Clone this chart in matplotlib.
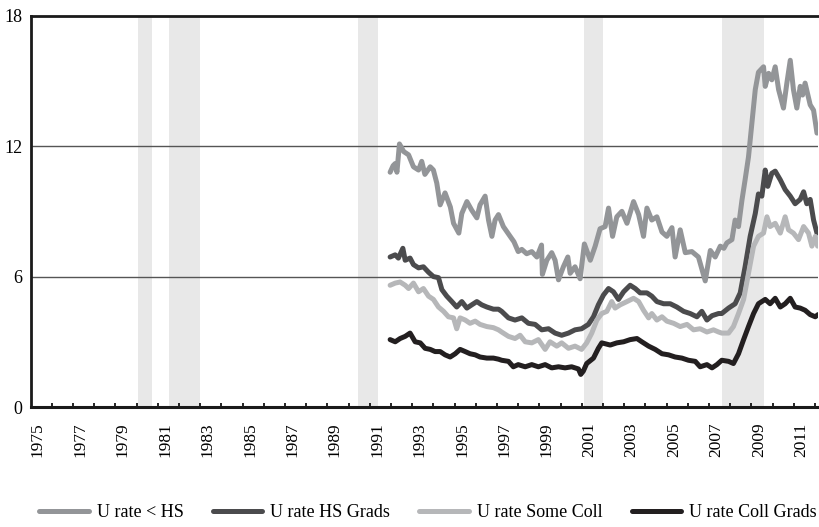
"""Unemployment rate by education level, 1975-2012, with recession shading."""

import matplotlib

matplotlib.use("Agg")
import matplotlib.pyplot as plt
import numpy as np

# ---- data (decimal years, percent) ----
LT_HS_YEARS = [
    1991.96, 1992.10, 1992.20, 1992.28, 1992.40, 1992.60, 1992.83, 1993.06, 1993.30, 1993.45,
    1993.60, 1993.85, 1994.00, 1994.16, 1994.32, 1994.55, 1994.80, 1994.95, 1995.20, 1995.34,
    1995.58, 1995.81, 1996.05, 1996.20, 1996.44, 1996.60, 1996.76, 1996.91, 1997.07, 1997.30,
    1997.62, 1997.80, 1998.00, 1998.17, 1998.40, 1998.64, 1998.88, 1999.10, 1999.14, 1999.35,
    1999.58, 1999.74, 1999.90, 2000.13, 2000.34, 2000.45, 2000.68, 2000.92, 2001.12, 2001.40,
    2001.63, 2001.86, 2002.10, 2002.26, 2002.45, 2002.65, 2002.89, 2003.13, 2003.44, 2003.68,
    2003.91, 2004.07, 2004.30, 2004.54, 2004.78, 2005.01, 2005.25, 2005.40, 2005.64, 2005.88,
    2006.19, 2006.50, 2006.82, 2007.06, 2007.29, 2007.53, 2007.70, 2007.84, 2008.08, 2008.23,
    2008.39, 2008.55, 2008.70, 2008.86, 2009.02, 2009.18, 2009.33, 2009.57, 2009.65, 2009.81,
    2009.96, 2010.12, 2010.28, 2010.51, 2010.67, 2010.83, 2010.98, 2011.14, 2011.30, 2011.41,
    2011.53, 2011.77, 2011.93, 2012.09,
]
LT_HS = [
    10.8, 11.1, 11.2, 10.8, 12.1, 11.75, 11.6, 11.05, 10.9, 11.3,
    10.7, 11.05, 10.9, 10.3, 9.3, 9.85, 9.2, 8.45, 8.0, 8.9,
    9.45, 9.05, 8.7, 9.3, 9.7, 8.6, 7.85, 8.6, 8.85, 8.3,
    7.85, 7.6, 7.15, 7.25, 7.05, 7.15, 6.9, 7.45, 6.1, 6.75,
    7.1, 6.75, 5.85, 6.45, 6.9, 6.15, 6.45, 5.9, 7.5, 6.75,
    7.4, 8.2, 8.3, 9.15, 7.85, 8.75, 9.0, 8.45, 9.45, 8.85,
    7.85, 9.15, 8.6, 8.75, 8.05, 7.85, 8.25, 6.9, 8.15, 7.1,
    7.15, 6.9, 5.8, 7.2, 6.9, 7.4, 7.3, 7.55, 7.7, 8.6,
    8.3, 9.5, 10.45, 11.5, 13.05, 14.6, 15.4, 15.65, 14.75, 15.35,
    15.05, 15.65, 14.6, 13.75, 14.9, 15.95, 14.6, 13.75, 14.75, 14.35,
    14.9, 13.9, 13.65, 12.6,
]

HS_GRAD_YEARS = [
    1991.96, 1992.20, 1992.35, 1992.56, 1992.67, 1992.90, 1993.06, 1993.30, 1993.53, 1993.77,
    1994.00, 1994.24, 1994.40, 1994.63, 1994.87, 1995.10, 1995.34, 1995.58, 1995.81, 1996.05,
    1996.28, 1996.52, 1996.83, 1997.07, 1997.22, 1997.54, 1997.85, 1998.17, 1998.48, 1998.80,
    1999.11, 1999.43, 1999.74, 2000.05, 2000.37, 2000.68, 2000.99, 2001.31, 2001.55, 2001.78,
    2002.02, 2002.26, 2002.49, 2002.73, 2002.97, 2003.28, 2003.52, 2003.75, 2004.07, 2004.30,
    2004.54, 2004.86, 2005.17, 2005.48, 2005.80, 2006.11, 2006.43, 2006.66, 2006.90, 2007.14,
    2007.45, 2007.60, 2007.92, 2008.23, 2008.47, 2008.70, 2008.94, 2009.18, 2009.33, 2009.49,
    2009.65, 2009.77, 2009.96, 2010.12, 2010.36, 2010.59, 2010.83, 2011.06, 2011.30, 2011.46,
    2011.61, 2011.77, 2011.93, 2012.09,
]
HS_GRAD = [
    6.9, 7.0, 6.85, 7.3, 6.75, 6.85, 6.55, 6.4, 6.45, 6.2,
    6.0, 5.95, 5.4, 5.1, 4.85, 4.6, 4.85, 4.55, 4.7, 4.85,
    4.7, 4.6, 4.5, 4.5, 4.4, 4.1, 4.0, 4.1, 3.85, 3.8,
    3.55, 3.6, 3.4, 3.3, 3.4, 3.55, 3.6, 3.8, 4.15, 4.7,
    5.15, 5.45, 5.3, 4.95, 5.3, 5.6, 5.45, 5.25, 5.25, 5.1,
    4.85, 4.75, 4.75, 4.6, 4.4, 4.3, 4.15, 4.4, 4.0, 4.2,
    4.3, 4.3, 4.55, 4.75, 5.25, 6.45, 7.85, 8.9, 9.8, 9.7,
    10.9, 10.15, 10.75, 10.85, 10.45, 10.0, 9.7, 9.35, 9.55, 9.9,
    9.35, 9.55, 8.6, 8.0,
]

SOME_COLL_YEARS = [
    1991.96, 1992.20, 1992.43, 1992.67, 1992.83, 1993.06, 1993.30, 1993.53, 1993.77, 1994.00,
    1994.24, 1994.48, 1994.71, 1994.95, 1995.10, 1995.26, 1995.50, 1995.73, 1995.97, 1996.20,
    1996.52, 1996.83, 1997.07, 1997.22, 1997.54, 1997.85, 1998.09, 1998.33, 1998.64, 1998.95,
    1999.27, 1999.50, 1999.82, 2000.05, 2000.37, 2000.68, 2000.99, 2001.23, 2001.47, 2001.71,
    2001.94, 2002.18, 2002.41, 2002.57, 2002.81, 2003.13, 2003.44, 2003.68, 2003.91, 2004.15,
    2004.30, 2004.54, 2004.78, 2005.01, 2005.33, 2005.64, 2005.96, 2006.27, 2006.58, 2006.90,
    2007.21, 2007.45, 2007.60, 2007.92, 2008.15, 2008.39, 2008.63, 2008.86, 2009.10, 2009.33,
    2009.57, 2009.73, 2009.88, 2010.12, 2010.36, 2010.59, 2010.75, 2010.98, 2011.22, 2011.46,
    2011.69, 2011.85, 2012.01, 2012.12,
]
SOME_COLL = [
    5.6, 5.7, 5.75, 5.6, 5.45, 5.7, 5.3, 5.45, 5.1, 4.95,
    4.6, 4.4, 4.15, 4.1, 3.6, 4.1, 4.0, 3.85, 3.95, 3.8,
    3.7, 3.65, 3.55, 3.45, 3.25, 3.15, 3.3, 3.0, 2.95, 3.1,
    2.65, 3.0, 2.8, 2.95, 2.7, 2.8, 2.65, 2.95, 3.4, 4.0,
    4.3, 4.4, 4.85, 4.55, 4.7, 4.85, 5.0, 4.85, 4.45, 4.1,
    4.3, 4.0, 4.15, 3.95, 3.85, 3.7, 3.8, 3.55, 3.6, 3.45,
    3.55, 3.45, 3.4, 3.4, 3.7, 4.3, 4.95, 6.15, 7.4, 7.85,
    8.0, 8.75, 8.3, 8.45, 8.0, 8.75, 8.15, 8.0, 7.7, 8.3,
    8.0, 7.4, 7.85, 7.4,
]

COLL_GRAD_YEARS = [
    1991.96, 1992.20, 1992.43, 1992.67, 1992.90, 1993.14, 1993.38, 1993.61, 1993.85, 1994.08,
    1994.32, 1994.55, 1994.79, 1995.03, 1995.26, 1995.50, 1995.73, 1995.97, 1996.20, 1996.52,
    1996.83, 1997.07, 1997.22, 1997.54, 1997.77, 1998.00, 1998.33, 1998.64, 1998.95, 1999.27,
    1999.58, 1999.90, 2000.21, 2000.52, 2000.84, 2000.95, 2001.07, 2001.23, 2001.55, 2001.78,
    2001.94, 2002.34, 2002.65, 2002.97, 2003.28, 2003.60, 2003.83, 2004.15, 2004.46, 2004.78,
    2005.09, 2005.40, 2005.72, 2006.03, 2006.35, 2006.58, 2006.90, 2007.14, 2007.37, 2007.60,
    2007.92, 2008.15, 2008.39, 2008.63, 2008.86, 2009.10, 2009.33, 2009.65, 2009.88, 2010.12,
    2010.36, 2010.59, 2010.83, 2011.06, 2011.30, 2011.53, 2011.77, 2012.01, 2012.14,
]
COLL_GRAD = [
    3.1, 3.0, 3.15, 3.25, 3.4, 3.0, 2.95, 2.7, 2.65, 2.55,
    2.55, 2.4, 2.3, 2.45, 2.65, 2.55, 2.45, 2.4, 2.3, 2.25,
    2.25, 2.2, 2.15, 2.1, 1.85, 1.95, 1.85, 1.95, 1.85, 1.95,
    1.8, 1.85, 1.8, 1.85, 1.75, 1.5, 1.65, 2.0, 2.25, 2.7,
    2.95, 2.85, 2.95, 3.0, 3.1, 3.15, 3.0, 2.8, 2.65, 2.45,
    2.4, 2.3, 2.25, 2.15, 2.1, 1.85, 1.95, 1.8, 1.95, 2.15,
    2.1, 2.0, 2.45, 3.1, 3.7, 4.3, 4.75, 4.95, 4.75, 5.0,
    4.6, 4.75, 5.0, 4.6, 4.55, 4.45, 4.25, 4.15, 4.25,
]

# recession bands (start, end) as drawn on the chart
RECESSION_START = [1980.07, 1981.53, 1990.45, 2001.11, 2007.62]
RECESSION_END = [1980.73, 1982.99, 1991.38, 2002.00, 2009.60]

SERIES_LABELS = ["U rate < HS", "U rate HS Grads", "U rate Some Coll", "U rate Coll Grads"]
SERIES_COLORS = ["#939598", "#4b4b4d", "#b6b7b9", "#231f20"]

Y_TICKS = [0, 6, 12, 18]
YEAR_LABELS = list(range(1975, 2012, 2))

plt.rcParams["font.family"] = ["Liberation Serif", "DejaVu Serif"]


def main() -> None:
    fig = plt.figure(figsize=(8.2, 5.27), dpi=100)
    ax = fig.add_axes([0.0372, 0.2277, 0.9604, 0.7425])

    for start, end in zip(RECESSION_START, RECESSION_END):
        ax.axvspan(start, end, color="#e8e8e8", lw=0, zorder=0)

    for level in Y_TICKS[1:3]:
        ax.axhline(level, color="#555555", lw=1.0, zorder=1)

    series = [
        (LT_HS_YEARS, LT_HS),
        (HS_GRAD_YEARS, HS_GRAD),
        (SOME_COLL_YEARS, SOME_COLL),
        (COLL_GRAD_YEARS, COLL_GRAD),
    ]
    handles = []
    for (years, values), label, color in zip(series, SERIES_LABELS, SERIES_COLORS):
        (line,) = ax.plot(years, values, color=color, lw=3.6, label=label,
                          solid_joinstyle="round", solid_capstyle="round", zorder=3)
        handles.append(line)

    ax.set_xlim(1975.0, 2012.14)
    ax.set_ylim(0, 18)

    ax.set_yticks(Y_TICKS)
    ax.tick_params(axis="y", length=0, pad=6, labelsize=13)

    ax.set_xticks(np.arange(1976, 2013))
    ax.set_xticklabels([])
    ax.tick_params(axis="x", which="major", direction="in", length=3.2, width=1.2, color="black")
    ax.set_xticks([y + 0.35 for y in YEAR_LABELS], minor=True)
    ax.set_xticklabels([str(y) for y in YEAR_LABELS], minor=True, rotation=90, va="top")
    ax.tick_params(axis="x", which="minor", length=0, pad=11, labelsize=12.5)

    ax.spines["right"].set_visible(False)
    ax.spines["top"].set_linewidth(2.0)
    ax.spines["left"].set_linewidth(2.0)
    ax.spines["bottom"].set_linewidth(2.2)
    for side in ("top", "left", "bottom"):
        ax.spines[side].set_color("#1a1a1a")
        ax.spines[side].set_zorder(4)

    fig.legend(handles, SERIES_LABELS, loc="center", bbox_to_anchor=(0.522, 0.027),
               ncol=4, frameon=False, fontsize=13, handlelength=2.75,
               handletextpad=0.45, columnspacing=1.6, borderpad=0.2)

    fig.savefig("out.png", dpi=100)
    plt.close(fig)


if __name__ == "__main__":
    main()
